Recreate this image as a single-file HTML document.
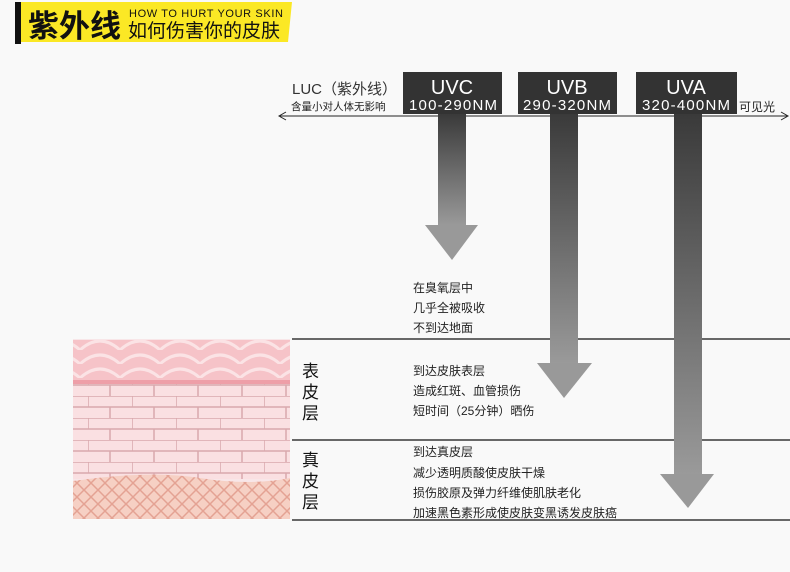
<!DOCTYPE html>
<html><head><meta charset="utf-8"><style>
body{margin:0;background:#f9f9f9;width:790px;height:572px;overflow:hidden;font-family:"Liberation Sans","Noto Sans CJK SC",sans-serif;}
</style></head><body>
<svg width="790" height="572" xmlns="http://www.w3.org/2000/svg" style="position:absolute;left:0;top:0">
<defs>
<linearGradient id="g1" x1="0" y1="0" x2="0" y2="1"><stop offset="0" stop-color="#3a3a3a"/><stop offset="1" stop-color="#9a9a9a"/></linearGradient>
<pattern id="brick" width="44" height="22" patternUnits="userSpaceOnUse"><rect width="44" height="22" fill="#fae0e2"/><path d="M0 0H44M0 11H44M0 0V11M22 11V22" stroke="#d9a8ad" stroke-width="1.5" fill="none"/></pattern>
<pattern id="mesh" width="14" height="14" patternUnits="userSpaceOnUse"><rect width="14" height="14" fill="#f6d0c4"/><path d="M0 0L14 14M14 0L0 14" stroke="#e4a293" stroke-width="1.5"/></pattern>
<pattern id="scale" width="40" height="14" patternUnits="userSpaceOnUse"><rect width="40" height="14" fill="#f6c3c8"/><path d="M0 14Q20 -4 40 14" stroke="#fbe3e5" stroke-width="3" fill="none"/></pattern>
</defs>
<rect x="15" y="2" width="6" height="42" fill="#111"/>
<polygon points="21,2 292,2 288,42 21,42" fill="#fbe825"/>
<text x="28" y="37" font-size="31" font-weight="bold" fill="#111">紫外线</text>
<text x="129" y="17" font-size="11" fill="#111" textLength="154">HOW TO HURT YOUR SKIN</text>
<text x="128" y="37" font-size="19" fill="#111">如何伤害你的皮肤</text>

<line x1="280" y1="116" x2="787" y2="116" stroke="#222" stroke-width="1"/>
<path d="M286 112L279 116L286 120M781 112L788 116L781 120" stroke="#222" fill="none"/>
<text x="292" y="94" font-size="15" fill="#333">LUC（紫外线）</text>
<text x="291" y="110" font-size="10.5" fill="#222">含量小对人体无影响</text>
<text x="739" y="111" font-size="12" fill="#222">可见光</text>

<rect x="403" y="72" width="99" height="42" fill="#333"/>
<rect x="518" y="72" width="99" height="42" fill="#333"/>
<rect x="636" y="72" width="101" height="42" fill="#333"/>
<g fill="#fff" text-anchor="middle">
<text x="452" y="94" font-size="20">UVC</text><text x="453" y="110" font-size="15" textLength="88">100-290NM</text>
<text x="567" y="94" font-size="20">UVB</text><text x="567" y="110" font-size="15" textLength="88">290-320NM</text>
<text x="686" y="94" font-size="20">UVA</text><text x="686" y="110" font-size="15" textLength="88">320-400NM</text>
</g>

<g stroke="#111" stroke-width="1.3">
<line x1="292" y1="339" x2="790" y2="339"/><line x1="292" y1="440" x2="790" y2="440"/><line x1="292" y1="520" x2="790" y2="520"/>
</g>

<rect x="438" y="114" width="28" height="112" fill="url(#g1)"/>
<polygon points="425,225 478,225 452,260" fill="#999"/>
<rect x="550" y="114" width="28" height="250" fill="url(#g1)"/>
<polygon points="537,363 592,363 564,398" fill="#999"/>
<rect x="674" y="114" width="28" height="361" fill="url(#g1)"/>
<polygon points="660,474 714,474 688,508" fill="#999"/>

<g font-size="12" fill="#222">
<text x="413" y="292">在臭氧层中</text><text x="413" y="312">几乎全被吸收</text><text x="413" y="332">不到达地面</text>
<text x="413" y="375">到达皮肤表层</text><text x="413" y="395">造成红斑、血管损伤</text><text x="413" y="415">短时间（25分钟）晒伤</text>
<text x="413" y="456">到达真皮层</text><text x="413" y="477">减少透明质酸使皮肤干燥</text><text x="413" y="497">损伤胶原及弹力纤维使肌肤老化</text><text x="413" y="517">加速黑色素形成使皮肤变黑诱发皮肤癌</text>
</g>
<g font-size="17" fill="#111">
<text x="302" y="377">表</text><text x="302" y="398">皮</text><text x="302" y="419">层</text>
<text x="302" y="466">真</text><text x="302" y="487">皮</text><text x="302" y="508">层</text>
</g>

<rect x="73" y="339" width="217" height="180" fill="#f8e6e8"/>
<rect x="73" y="340" width="217" height="40" fill="url(#scale)"/>
<rect x="73" y="380" width="217" height="4" fill="#ee9fa8"/>
<rect x="73" y="384" width="217" height="95" fill="url(#brick)"/>
<path d="M73 481Q150 470 200 478T290 478V519H73Z" fill="url(#mesh)"/>
</svg>
</body></html>
